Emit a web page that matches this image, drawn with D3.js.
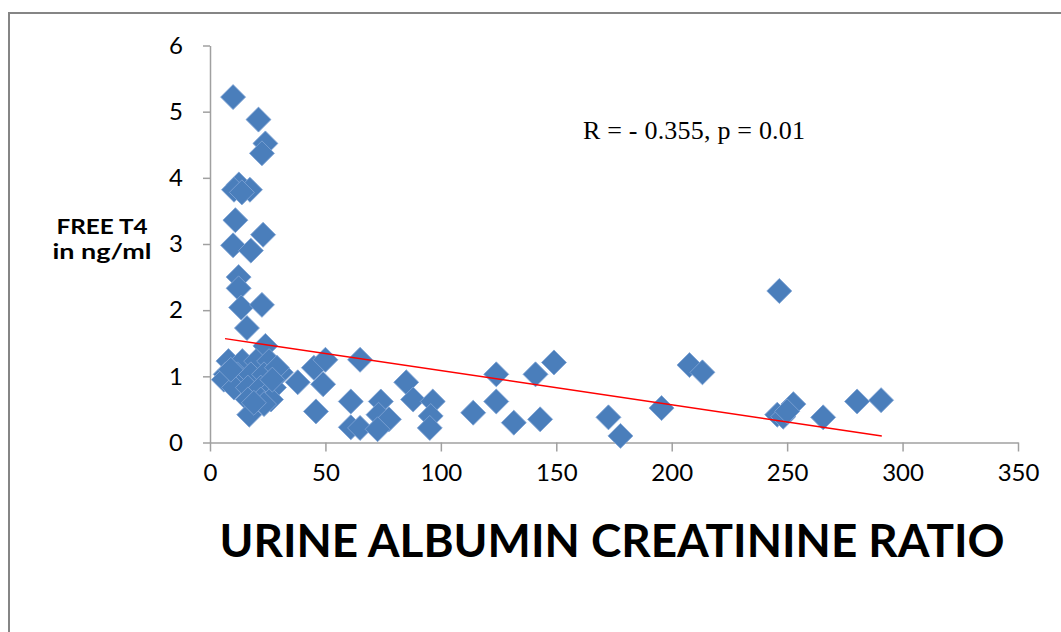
<!DOCTYPE html>
<html>
<head>
<meta charset="utf-8">
<script src="https://cdn.jsdelivr.net/npm/d3@7.9.0/dist/d3.min.js"></script>
<style>
  body { margin: 0; background: #fff; }
  svg { display: block; }
</style>
</head>
<body>
<svg id="chart" width="1061" height="632"></svg>
<script>
// Urine albumin creatinine ratio (x) vs free T4 in ng/ml (y)
const uacr = [
  10, 21, 24, 22.5, 12.5, 10.4, 17.3, 13.8, 11, 23, 10, 17.7, 12.4, 12.4, 13.5, 22.5, 16, 24,
  8, 14, 20, 25.6, 6.8, 11.9, 17.7, 23.4, 29.4, 6, 30.7, 10.4, 16.4, 22, 27.7, 16.4, 22, 26.4,
  17, 23.4, 19, 29, 9, 27,
  38, 45.9, 45, 50, 49,
  65, 61, 61, 65, 74, 73, 77.5, 72.6, 85, 88, 96.5, 95.6, 95.2,
  114, 124, 124, 131.6, 141, 149, 143,
  172.6, 177.8, 195.6, 207.7, 213.3,
  246.6, 245.7, 248.3, 252.7, 250, 265.6, 280.3, 290.7
];
const freeT4 = [
  5.22, 4.88, 4.52, 4.37, 3.9, 3.82, 3.82, 3.78, 3.36, 3.14, 2.98, 2.9, 2.5, 2.33, 2.04, 2.08, 1.73, 1.46,
  1.23, 1.23, 1.23, 1.23, 1.03, 1.03, 1.03, 1.03, 1.03, 0.95, 1.06, 0.83, 0.83, 0.83, 0.83, 0.65, 0.65, 0.65,
  0.42, 0.58, 0.6, 1.13, 1.1, 0.95,
  0.91, 0.47, 1.13, 1.25, 0.88,
  1.25, 0.62, 0.23, 0.22, 0.62, 0.42, 0.35, 0.2, 0.91, 0.65, 0.62, 0.4, 0.22,
  0.45, 1.03, 0.62, 0.3, 1.03, 1.21, 0.35,
  0.38, 0.1, 0.52, 1.17, 1.06,
  2.29, 0.42, 0.39, 0.58, 0.47, 0.38, 0.62, 0.64
];
// linear trend line end points
const trendX = [6.5, 291];
const trendY = [1.57, 0.1];

const xTicks = [0, 50, 100, 150, 200, 250, 300, 350];
const yTicks = [0, 1, 2, 3, 4, 5, 6];

const svg = d3.select("#chart");
const axisColor = "#a0a0a0";

// outer frame of the chart area
svg.append("path")
  .attr("d", "M9,632 V13 H1061")
  .attr("fill", "none")
  .attr("stroke", "#858585")
  .attr("stroke-width", 2);

const x = d3.scaleLinear().domain([0, 350]).range([210, 1018]);
const y = d3.scaleLinear().domain([0, 6]).range([442.5, 45.5]);

// y axis
const yAxis = svg.append("g")
  .attr("transform", `translate(${x(0)},0)`)
  .call(d3.axisLeft(y).tickValues(yTicks).tickFormat(d3.format("d"))
    .tickSize(7).tickPadding(20).tickSizeOuter(0));
yAxis.select(".domain").attr("stroke", axisColor).attr("stroke-width", 1.5);
yAxis.selectAll(".tick line").attr("stroke", axisColor).attr("stroke-width", 1.5);
yAxis.selectAll("text")
  .attr("font-family", "Lato, sans-serif")
  .attr("font-size", 24)
  .attr("fill", "#000");

// x axis
const xAxis = svg.append("g")
  .attr("transform", `translate(0,${y(0)})`)
  .call(d3.axisBottom(x).tickValues(xTicks).tickSize(9).tickPadding(12).tickSizeOuter(0));
xAxis.select(".domain").attr("stroke", axisColor).attr("stroke-width", 1.5);
xAxis.selectAll(".tick line").attr("stroke", axisColor).attr("stroke-width", 1.5);
xAxis.selectAll("text")
  .attr("font-family", "Lato, sans-serif")
  .attr("font-size", 24)
  .attr("fill", "#000");

// points as diamonds
const diamond = d3.symbol().type(d3.symbolSquare).size(312);
const points = uacr.map((v, i) => ({ x: v, y: freeT4[i] }));

svg.append("g")
  .selectAll("path")
  .data(points)
  .join("path")
  .attr("d", diamond)
  .attr("transform", d => `translate(${x(d.x)},${y(d.y)}) rotate(45)`)
  .attr("fill", "#4a7ebb")
  .attr("stroke", "#7ea3d4")
  .attr("stroke-width", 0.8);

// trend line
svg.append("line")
  .attr("x1", x(trendX[0])).attr("y1", y(trendY[0]))
  .attr("x2", x(trendX[1])).attr("y2", y(trendY[1]))
  .attr("stroke", "#ff0000")
  .attr("stroke-width", 1.5);

// correlation note
svg.append("text")
  .attr("x", 583)
  .attr("y", 139)
  .attr("font-family", "'Liberation Serif', 'Times New Roman', serif")
  .attr("font-size", 26)
  .attr("textLength", 222)
  .text("R = - 0.355, p = 0.01");

// y axis title, two lines
const yTitleLines = ["FREE T4", "in ng/ml"];
const yTitleWidths = [91, 99];
yTitleLines.forEach((line, i) => {
  svg.append("text")
    .attr("x", 102)
    .attr("y", 234 + i * 25)
    .attr("text-anchor", "middle")
    .attr("font-family", "Lato, sans-serif")
    .attr("font-weight", "bold")
    .attr("font-size", 20)
    .attr("textLength", yTitleWidths[i])
    .attr("lengthAdjust", "spacingAndGlyphs")
    .text(line);
});

// x axis title
svg.append("text")
  .attr("x", 612)
  .attr("y", 557)
  .attr("text-anchor", "middle")
  .attr("font-family", "Lato, sans-serif")
  .attr("font-weight", "bold")
  .attr("font-size", 46)
  .attr("textLength", 785)
  .attr("lengthAdjust", "spacingAndGlyphs")
  .text("URINE ALBUMIN CREATININE RATIO");
</script>
</body>
</html>
